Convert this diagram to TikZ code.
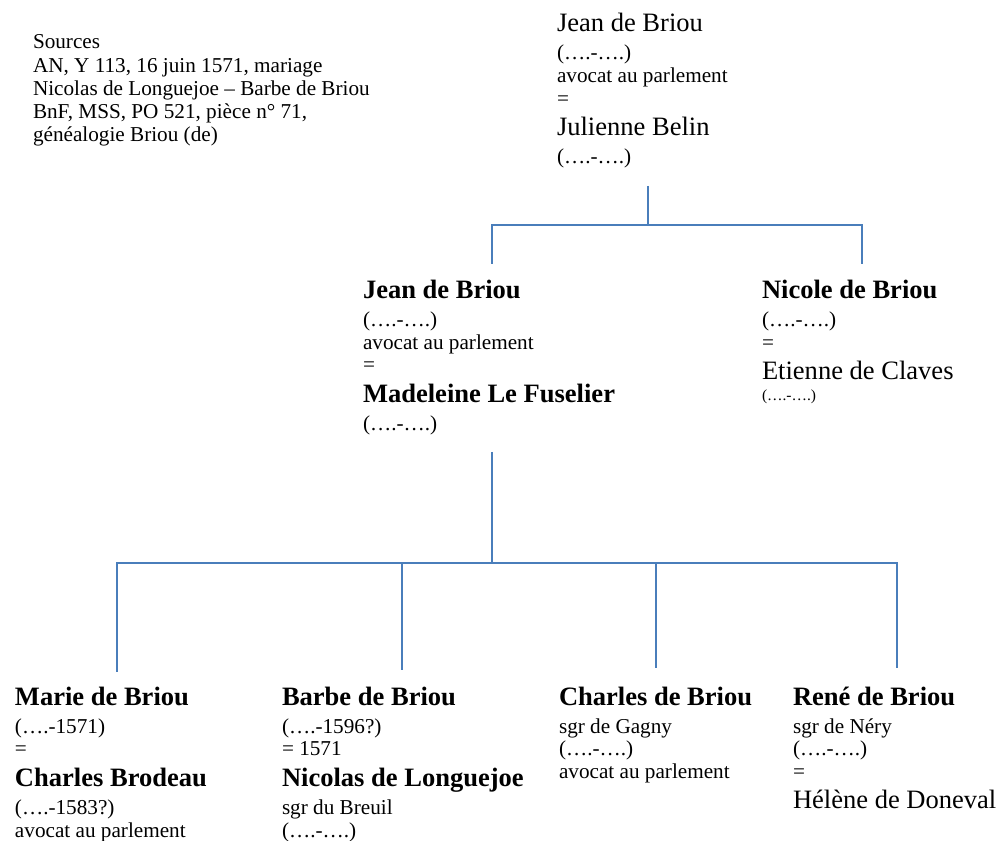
\documentclass[tikz,border=0pt]{standalone}
\usepackage{fontspec}
\setmainfont{Liberation Serif}
\usepackage{tikz}
\usetikzlibrary{positioning,calc}
\definecolor{genlien}{HTML}{4A7EBB}
\definecolor{gentexte}{HTML}{000000}
\newcommand\gpetit{\fontsize{15.9}{16.9}\selectfont\lineskiplimit=-100pt\relax}
\newcommand\gsource{\fontsize{15.9}{17.3}\selectfont\lineskiplimit=-100pt\relax}
\newcommand\ggrand{\fontsize{19.9}{16.9}\selectfont}
\newcommand\gmenu{\fontsize{11.6}{16.9}\selectfont}
\newcommand\gancre{\rule{0pt}{15pt}}
\tikzset{genpx/.style={x=0.75pt,y=-0.75pt}}
\tikzset{
  pers/.style={anchor=north west,inner sep=0pt,outer sep=0pt,align=left,font=\gpetit,text=gentexte},
  lien/.style={draw=genlien,line width=1.2pt},
  lienfort/.style={draw=genlien,line width=1.6pt},
}

\begin{document}
\begin{tikzpicture}[genpx,
  src/.style={pers,font=\gsource}]
  \useasboundingbox (0,0) rectangle (1001,841);
  % --- sources
  \node[src] (sources) at (33,29) {\gancre Sources\\AN, Y 113, 16 juin 1571, mariage\\Nicolas de Longuejoe – Barbe de Briou\\BnF, MSS, PO 521, pièce n° 71,\\généalogie Briou (de)};
  % --- premier couple
  \node[pers] (jeanA) at (557,11.7) {{\gancre\ggrand Jean de Briou}\\[4.3pt](….-….)\\avocat au parlement\\=\\[6.1pt]{\ggrand Julienne Belin}\\[4.3pt](….-….)};
  % --- enfants
  \node[pers] (jeanB) at (363,278.3) {{\gancre\ggrand\bfseries Jean de Briou}\\[4.3pt](….-….)\\avocat au parlement\\=\\[6.1pt]{\ggrand\bfseries Madeleine Le Fuselier}\\[4.3pt](….-….)};
  \node[pers] (nicole) at (762,278.3) {{\gancre\ggrand\bfseries Nicole de Briou}\\[4.3pt](….-….)\\=\\[6.1pt]{\ggrand Etienne de Claves}\\[-1.5pt]{\gmenu(….-….)}};
  % --- petits-enfants
  \node[pers] (marie) at (15,685) {{\gancre\ggrand\bfseries Marie de Briou}\\[4.3pt](….-1571)\\=\\[6.1pt]{\ggrand\bfseries Charles Brodeau}\\[4.3pt](….-1583?)\\avocat au parlement};
  \node[pers] (barbe) at (282,685) {{\gancre\ggrand\bfseries Barbe de Briou}\\[4.3pt](….-1596?)\\= 1571\\[6.1pt]{\ggrand\bfseries Nicolas de Longuejoe}\\[4.3pt]sgr du Breuil\\(….-….)};
  \node[pers] (charles) at (559,685) {{\gancre\ggrand\bfseries Charles de Briou}\\[4.3pt]sgr de Gagny\\(….-….)\\avocat au parlement};
  \node[pers] (rene) at (793,685) {{\gancre\ggrand\bfseries René de Briou}\\[4.3pt]sgr de Néry\\(….-….)\\=\\[6.1pt]{\ggrand Hélène de Doneval}};
  % --- filiation 1
  \coordinate (t0) at (648,186); \coordinate (j0) at (648,225);
  \coordinate (e0) at (492,264); \coordinate (e1) at (862,264);
  \draw[lienfort] (t0) -- (j0);
  \draw[lienfort] (e0) |- (j0) -| (e1);
  % --- filiation 2
  \coordinate (t1) at (492,452); \coordinate (j1) at (492,563);
  \coordinate (e2) at (117,672); \coordinate (e3) at (402,670);
  \coordinate (e4) at (656,668); \coordinate (e5) at (897,668);
  \draw[lien] (t1) -- (j1);
  \draw[lien] (e2) |- (j1) -| (e5);
  \draw[lien] (j1 -| e3) -- (e3);
  \draw[lien] (j1 -| e4) -- (e4);
\end{tikzpicture}
\end{document}
